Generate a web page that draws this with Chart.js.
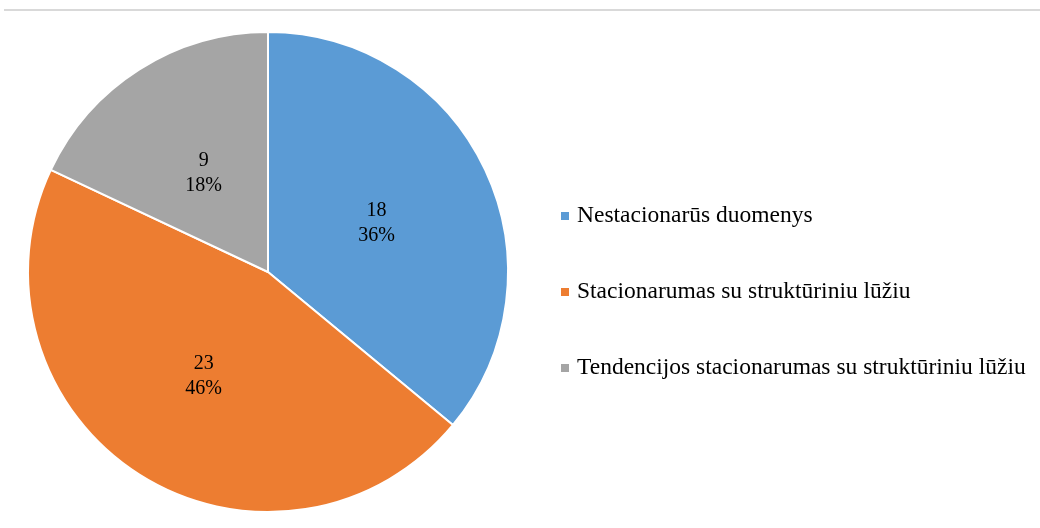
<!DOCTYPE html>
<html>
<head>
<meta charset="utf-8">
<script src="https://cdn.jsdelivr.net/npm/chart.js@4/dist/chart.umd.min.js"></script>
<style>
  html, body { margin: 0; padding: 0; background: #fff; }
  #wrap { position: relative; width: 1040px; height: 528px; }
  #topRule { position: absolute; left: 4px; right: 0; top: 9px; height: 2px; background: #d9d9d9; }
  canvas { position: absolute; left: 0; top: 0; }
</style>
</head>
<body>
<div id="wrap">
  <div id="topRule"></div>
  <canvas id="pie" width="1040" height="528"></canvas>
</div>
<script>
// Series data
const categories = [
  'Nestacionarūs duomenys',
  'Stacionarumas su struktūriniu lūžiu',
  'Tendencijos stacionarumas su struktūriniu lūžiu'
];
const counts = [18, 23, 9];
const sliceColors = ['#5B9BD5', '#ED7D31', '#A5A5A5'];

const SERIF = '"Liberation Serif", "Times New Roman", serif';

// Count + percentage inside each slice
const sliceLabels = {
  id: 'sliceLabels',
  afterDatasetsDraw(chart) {
    const ctx = chart.ctx;
    const meta = chart.getDatasetMeta(0);
    const values = chart.data.datasets[0].data;
    const total = values.reduce((a, b) => a + b, 0);
    ctx.save();
    ctx.font = '20px ' + SERIF;
    ctx.fillStyle = '#000';
    ctx.textAlign = 'center';
    ctx.textBaseline = 'middle';
    meta.data.forEach((arc, i) => {
      const p = arc.tooltipPosition();
      const pct = Math.round(values[i] / total * 100) + '%';
      ctx.fillText(String(values[i]), p.x, p.y - 10);
      ctx.fillText(pct, p.x, p.y + 15);
    });
    ctx.restore();
  }
};

// Legend on the right side, drawn by hand for spacing control
const sideLegend = {
  id: 'sideLegend',
  afterDraw(chart) {
    const ctx = chart.ctx;
    const x = 561, y0 = 216, step = 76;
    ctx.save();
    ctx.font = '23.5px ' + SERIF;
    ctx.textBaseline = 'middle';
    chart.data.labels.forEach((label, i) => {
      const y = y0 + i * step;
      ctx.fillStyle = sliceColors[i];
      ctx.fillRect(x, y - 4, 8, 8);
      ctx.fillStyle = '#000';
      ctx.fillText(label, x + 16, y);
    });
    ctx.restore();
  }
};

new Chart(document.getElementById('pie'), {
  type: 'pie',
  data: {
    labels: categories,
    datasets: [{
      data: counts,
      backgroundColor: sliceColors,
      borderColor: '#ffffff',
      borderWidth: 2
    }]
  },
  options: {
    responsive: false,
    animation: false,
    layout: { padding: { left: 27, top: 31, right: 531, bottom: 15 } },
    plugins: {
      legend: { display: false },
      tooltip: { enabled: false }
    }
  },
  plugins: [sliceLabels, sideLegend]
});
</script>
</body>
</html>
